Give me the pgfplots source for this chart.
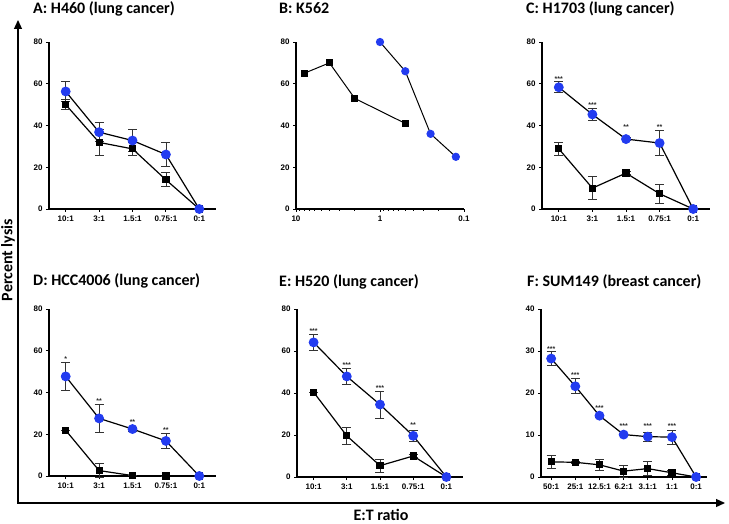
\documentclass[border=0pt]{standalone}
\usepackage{pgfplots}
\pgfplotsset{compat=1.18}
\usepackage{fontspec}
\setmainfont{Liberation Sans}
\newfontfamily\carlito{Carlito}
\usetikzlibrary{arrows.meta}
\definecolor{myblue}{RGB}{35,60,240}

\pgfplotsset{
  panel/.style={scale only axis, anchor=south west, width=167pt, height=167pt,
    axis x line*=bottom, axis y line*=left,
    axis line style={-, line width=1.2pt},
    tick align=outside, major tick length=3pt, minor tick length=2pt,
    tick style={line width=0.9pt, black},
    ymin=0, ymax=80, ytick={0,20,40,60,80},
    ticklabel style={font=\fontsize{8}{9}\selectfont\bfseries},
    /pgf/number format/assume math mode=true,
    xmin=-0.5, xmax=4.5, xtick={0,...,4},
    xticklabels={10:1,3:1,1.5:1,0.75:1,0:1},
    clip=false},
  ebar/.style={error bars/.cd, y dir=both, y explicit,
    error bar style={line width=0.8pt, black!80},
    error mark options={rotate=90, mark size=4.5pt, line width=0.8pt, black!80}},
  sq/.style={black, line width=1.2pt, mark=square*, mark size=3pt,
    mark options={solid, fill=black}, ebar},
  ci/.style={black, line width=1.2pt, mark=*, mark size=4.3pt,
    mark options={solid, fill=myblue, draw=myblue}, ebar},
  stars/.style={only marks, mark=*, mark size=0pt, mark options={draw=none, fill=none},
    nodes near coords, point meta=explicit symbolic,
    nodes near coords style={anchor=base, yshift=-4pt, inner sep=0pt,
      font=\fontsize{7}{7}\selectfont\bfseries, text=black!85}},
}
\tikzset{ttl/.style={anchor=base west, inner sep=0pt, font=\carlito\bfseries\fontsize{16}{18}\selectfont}}

\begin{document}
\begin{tikzpicture}[x=1pt, y=1pt]
\useasboundingbox (0,0) rectangle (729,523);

% A: H460
\begin{axis}[panel, at={(49pt,314pt)}]
\addplot[sq] table[x=x, y=y, y error=e] {
x y e
0 50 2.5
1 31.9 6
2 28.8 3
3 14 3.4
4 0 0
};
\addplot[ci] table[x=x, y=y, y error=e] {
x y e
0 56.3 4.6
1 36.8 4.5
2 32.8 5.4
3 26.1 5.8
4 0 0
};
\end{axis}

% B: K562
\begin{axis}[panel, at={(296pt,314pt)}, width=168pt, xmode=log, x dir=reverse,
  xmin=0.1, xmax=10, xtick={0.1,1,10}, xticklabels={0.1,1,10},
  minor xtick={0.2,0.3,0.4,0.5,0.6,0.7,0.8,0.9,2,3,4,5,6,7,8,9}]
\addplot[black, line width=1pt, mark=square*, mark size=3pt, mark options={solid, fill=black}]
  table[x=x, y=y] {
x y
8 65
4 70
2 53
0.5 41
};
\addplot[black, line width=1pt, mark=*, mark size=3.6pt, mark options={solid, fill=myblue, draw=myblue}]
  table[x=x, y=y] {
x y
1 80
0.5 66
0.25 36
0.125 25
};
\end{axis}

% C: H1703
\begin{axis}[panel, at={(542pt,314pt)}, width=168pt]
\addplot[sq] table[x=x, y=y, y error=e] {
x y e
0 28.8 3.3
1 10 5.6
2 17.2 0.8
3 7.3 4.6
4 0 0
};
\addplot[ci] table[x=x, y=y, y error=e] {
x y e
0 58.3 2.6
1 45.3 3
2 33.5 0.8
3 31.6 6
4 0 0
};
\addplot[stars] table[x=x, y=y, meta=s] {
x y s
0 62.8 ***
1 50.5 ***
2 39.8 **
3 39.8 **
};
\end{axis}

% D: HCC4006
\begin{axis}[panel, at={(49pt,47pt)}]
\addplot[sq] table[x=x, y=y, y error=e] {
x y e
0 21.9 0
1 2.6 3.5
2 0.2 0
3 0 0
4 0 0
};
\addplot[ci] table[x=x, y=y, y error=e] {
x y e
0 47.7 6.6
1 27.6 6.7
2 22.5 1
3 16.8 3.7
4 0 0
};
\addplot[stars] table[x=x, y=y, meta=s] {
x y s
0 56.9 *
1 36.6 **
2 26.8 **
3 22.8 **
};
\end{axis}

% E: H520
\begin{axis}[panel, at={(297pt,46pt)}, width=166pt, height=168pt]
\addplot[sq] table[x=x, y=y, y error=e] {
x y e
0 40.4 0
1 19.6 3.9
2 5.4 3
3 10 0.8
4 0 0
};
\addplot[ci] table[x=x, y=y, y error=e] {
x y e
0 64.1 3.8
1 47.9 3.9
2 34.5 6.4
3 19.6 2.7
4 0 0
};
\addplot[stars] table[x=x, y=y, meta=s] {
x y s
0 70.4 ***
1 54.2 ***
2 43.3 ***
3 25.4 **
};
\end{axis}

% F: SUM149
\begin{axis}[panel, at={(541pt,46pt)}, width=166pt, height=168pt,
  ymax=40, ytick={0,10,20,30,40}, xmin=-0.42, xmax=6.45, xtick={0,...,6},
  xticklabels={50:1,25:1,12.5:1,6.2:1,3.1:1,1:1,0:1}]
\addplot[sq] table[x=x, y=y, y error=e] {
x y e
0 3.6 1.5
1 3.5 0.3
2 2.9 1.4
3 1.4 1.4
4 2 1.7
5 1 0.5
6 0 0
};
\addplot[ci] table[x=x, y=y, y error=e] {
x y e
0 28.2 1.6
1 21.6 1.8
2 14.6 0.4
3 10.1 0.3
4 9.6 1.1
5 9.5 1.7
6 0 0
};
\addplot[stars] table[x=x, y=y, meta=s] {
x y s
0 30.8 ***
1 24.7 ***
2 16.9 ***
3 12.4 ***
4 12.4 ***
5 12.6 ***
};
\end{axis}

% panel titles
\node[ttl] at (33,509) {A: H460 (lung cancer)};
\node[ttl] at (279,509) {B: K562};
\node[ttl] at (526,509) {C: H1703 (lung cancer)};
\node[ttl] at (33,237) {D: HCC4006 (lung cancer)};
\node[ttl] at (279,236) {E: H520 (lung cancer)};
\node[ttl] at (527,236) {F: SUM149 (breast cancer)};

% shared axes
\draw[line width=1.3pt, -{Triangle[length=9pt, width=8pt]}] (18,20) -- (18,503);
\draw[line width=1.3pt, -{Triangle[length=9pt, width=8pt]}] (17.35,20) -- (725,20);
\node[rotate=90, inner sep=0pt, font=\carlito\bfseries\fontsize{16}{18}\selectfont] at (8,263) {Percent lysis};
\node[anchor=base, inner sep=0pt, font=\carlito\bfseries\fontsize{16}{18}\selectfont] at (381,3) {E:T ratio};
\end{tikzpicture}
\end{document}
